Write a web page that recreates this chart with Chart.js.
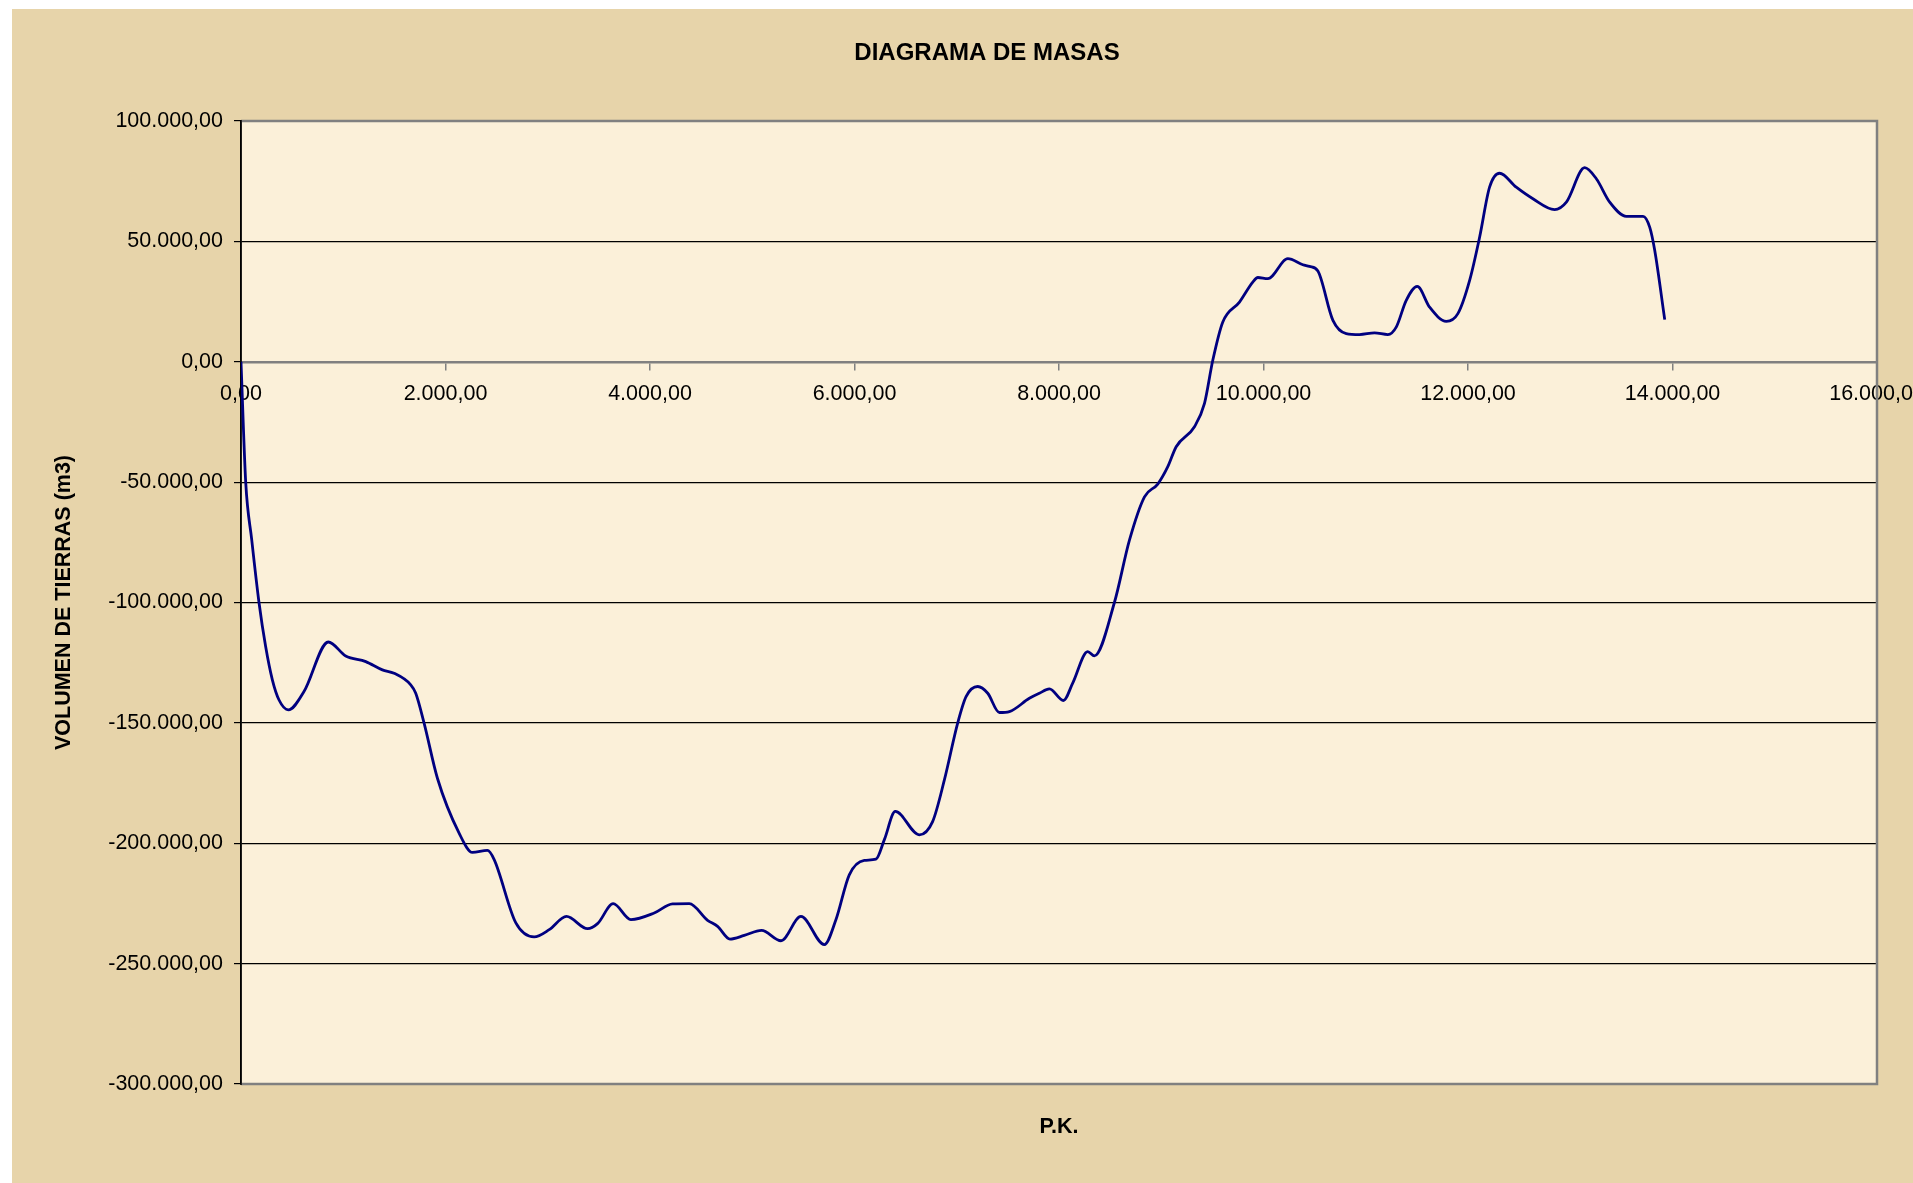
<!DOCTYPE html>
<html>
<head>
<meta charset="utf-8">
<script src="https://cdn.jsdelivr.net/npm/chart.js@4.4.1/dist/chart.umd.min.js"></script>
<style>
html, body { margin: 0; padding: 0; background: #ffffff; overflow: hidden; }
#wrap { width: 1913px; height: 1183px; position: relative; }
</style>
</head>
<body>
<div id="wrap"><canvas id="c" width="1913" height="1183"></canvas></div>
<script>
// ---- Data ----
const chartTitle = 'DIAGRAMA DE MASAS';
const xAxisTitle = 'P.K.';
const yAxisTitle = 'VOLUMEN DE TIERRAS (m3)';

const pk = [
  0, 46, 105, 176, 241, 306, 372, 463, 616, 854, 1024, 1220, 1383, 1497, 1660, 1709, 1790, 1921,
  2133, 2263, 2410, 2476, 2688, 2867, 3014, 3183, 3389, 3487, 3640, 3813, 4041,
  4221, 4384, 4563, 4661, 4782, 4922, 5091, 5281, 5476, 5705, 5819, 5949, 6096,
  6210, 6292, 6399, 6634, 6764, 6879, 7009, 7091, 7205, 7303, 7417, 7515, 7710,
  7808, 7906, 8043, 8134, 8281, 8346, 8542, 8689, 8836, 8966, 9064, 9146, 9325,
  9423, 9504, 9602, 9765, 9895, 9945, 10042, 10238, 10385, 10450, 10532, 10679,
  10809, 10939, 11086, 11216, 11298, 11396, 11504, 11624, 11788, 11901, 12016,
  12114, 12211, 12309, 12472, 12635, 12847, 12962, 13141, 13255, 13386, 13549,
  13712, 13777, 13826, 13924
];
const volumen = [
  0, -50000, -74000, -100000, -118300, -132000, -140500, -144600, -137000, -116400, -122200, -124550, -128000, -129400, -134200, -137700, -150000, -173000,
  -195800, -203800, -203000, -206800, -233100, -238900, -235900, -230400, -235500, -233400, -225100, -231700, -229000,
  -225200, -225100, -232000, -234500, -239800, -238300, -236200, -240500, -230400, -242100, -231700, -213100, -207100,
  -206600, -198500, -186800, -196500, -191000, -173700, -150100, -139100, -134900, -137700, -145700, -145300, -139800,
  -137700, -135900, -140700, -133500, -120400, -122200, -100000, -74100, -56100, -50800, -43600, -35300, -27000,
  -17300, 600, 16500, 24800, 33100, 35000, 34500, 42800, 40300, 39600, 37700, 17200,
  11700, 11300, 12000, 11300, 14400, 25500, 31300, 22700, 16800, 20000, 33800,
  51800, 72500, 78300, 72500, 67700, 63200, 66300, 80600, 76000, 66300, 60400,
  60400, 55900, 46300, 17500
];

const xTickLabels = ['0,00', '2.000,00', '4.000,00', '6.000,00', '8.000,00', '10.000,00', '12.000,00', '14.000,00', '16.000,00'];
const yTickLabels = ['-300.000,00', '-250.000,00', '-200.000,00', '-150.000,00', '-100.000,00', '-50.000,00', '0,00', '50.000,00', '100.000,00'];

// ---- Chart ----
const FONT = "'Liberation Sans', Arial, Helvetica, sans-serif";
const points = pk.map((x, i) => ({ x: x, y: volumen[i] }));

const backgroundPlugin = {
  id: 'bg',
  beforeDraw(chart) {
    const ctx = chart.ctx, a = chart.chartArea;
    ctx.save();
    ctx.fillStyle = '#ffffff';
    ctx.fillRect(0, 0, chart.width, chart.height);
    ctx.fillStyle = '#E7D4AA';
    ctx.fillRect(12, 9, chart.width - 12, chart.height - 9);
    ctx.fillStyle = '#FBF0D9';
    ctx.fillRect(a.left, a.top, a.right - a.left, a.bottom - a.top);
    ctx.restore();
  },
  beforeDatasetsDraw(chart) {
    const ctx = chart.ctx, a = chart.chartArea;
    ctx.save();
    ctx.strokeStyle = '#808080';
    ctx.lineWidth = 2.5;
    ctx.beginPath();
    ctx.moveTo(a.left, a.top);
    ctx.lineTo(a.right, a.top);
    ctx.lineTo(a.right, a.bottom);
    ctx.lineTo(a.left, a.bottom);
    ctx.stroke();
    ctx.strokeStyle = '#000000';
    ctx.lineWidth = 1.5;
    ctx.beginPath();
    ctx.moveTo(a.left, a.top - 1);
    ctx.lineTo(a.left, a.bottom + 1);
    ctx.stroke();
    ctx.restore();
  }
};

new Chart(document.getElementById('c'), {
  type: 'line',
  data: {
    datasets: [{
      data: points,
      borderColor: '#000080',
      borderWidth: 2.8,
      pointRadius: 0,
      fill: false,
      tension: 0.4,
      cubicInterpolationMode: 'monotone'
    }]
  },
  options: {
    responsive: false,
    animation: false,
    devicePixelRatio: 1,
    layout: { padding: { left: 97, right: 36, top: 0, bottom: 0 } },
    plugins: {
      legend: { display: false },
      tooltip: { enabled: false },
      title: {
        display: true,
        text: chartTitle,
        color: '#000',
        font: { family: FONT, size: 24, weight: 'bold', lineHeight: 1.2 },
        padding: { top: 39, bottom: 53.2 }
      }
    },
    scales: {
      x: {
        type: 'linear',
        position: { y: 0 },
        min: 0, max: 16000,
        ticks: {
          stepSize: 2000, autoSkip: false, maxRotation: 0, padding: 12,
          color: '#000', font: { family: FONT, size: 21.5 },
          callback: (v, i) => xTickLabels[i]
        },
        grid: { drawOnChartArea: false, drawTicks: true, tickLength: 7, color: '#808080', lineWidth: 1.5 },
        border: { color: '#808080', width: 2.5 },
        afterFit: (s) => { s.paddingLeft = 0; s.paddingRight = 0; }
      },
      x2: {
        type: 'linear',
        position: 'bottom',
        min: 0, max: 16000,
        ticks: { display: false },
        grid: { display: false },
        border: { display: false },
        title: {
          display: true, text: xAxisTitle, color: '#000',
          font: { family: FONT, size: 21.5, weight: 'bold', lineHeight: 1.2 },
          padding: { top: 0, bottom: 43 }
        },
        afterFit: (s) => { s.height = 99; s.paddingLeft = 0; s.paddingRight = 0; }
      },
      y: {
        type: 'linear',
        min: -300000, max: 100000,
        ticks: {
          stepSize: 50000, padding: 11, color: '#000',
          font: { family: FONT, size: 21.5 },
          callback: (v, i) => yTickLabels[i]
        },
        grid: { color: '#000', lineWidth: 1.2, tickLength: 7, tickColor: '#000' },
        border: { color: '#000', width: 1.5 },
        title: {
          display: true, text: yAxisTitle, color: '#000',
          font: { family: FONT, size: 21.5, weight: 'bold', lineHeight: 1.2 },
          padding: { top: -46.3, bottom: 0 }
        },
        afterFit: (s) => { s.width = 144; }
      }
    }
  },
  plugins: [backgroundPlugin]
});
</script>
</body>
</html>
